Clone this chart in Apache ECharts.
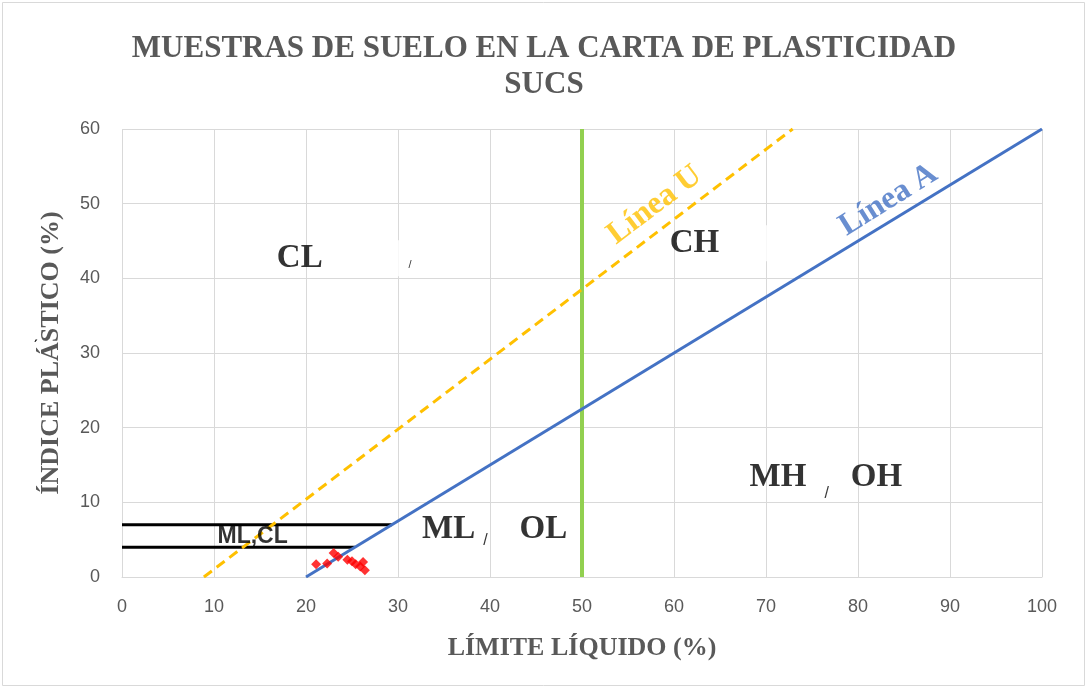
<!DOCTYPE html>
<html>
<head>
<meta charset="utf-8">
<script src="https://cdn.jsdelivr.net/npm/echarts@6/dist/echarts.min.js"></script>
<style>
  html, body { margin: 0; padding: 0; background: #fff; }
  #chart { width: 1088px; height: 689px; }
</style>
</head>
<body>
<div id="chart"></div>
<script>
// Casagrande plasticity chart (SUCS) with soil samples
const xTicks = [0, 10, 20, 30, 40, 50, 60, 70, 80, 90, 100];
const yTicks = [0, 10, 20, 30, 40, 50, 60];

// Reference lines as [LL, PI] endpoints
const lineU = [[8.9, 0], [72.9, 60]];
const lineA = [[20, 0], [100, 60]];
const lineLL50 = [[50, 0], [50, 60]];
const limitPI7 = [[0, 7], [29.33, 7]];
const limitPI4 = [[0, 4], [25.33, 4]];

// Soil samples: liquid limit (%) and plasticity index (%)
const sampleLL = [21.1, 22.3, 23.0, 23.5, 24.5, 25.0, 25.4, 26.2, 25.9, 26.4];
const samplePI = [1.7, 1.8, 3.2, 2.7, 2.3, 2.1, 1.7, 2.0, 1.4, 0.9];

// Zone names anchored in chart coordinates
const zoneText = ['CL', 'CH', 'MH', 'OH', 'ML', 'OL'];
const zoneLL = [19.1, 62.0, 71.3, 82.0, 35.5, 45.8];
const zonePI = [42.7, 44.7, 13.3, 13.3, 6.3, 6.3];

const serif = '"Liberation Serif", "Times New Roman", serif';
const sans = '"Liberation Sans", Arial, sans-serif';

const chart = echarts.init(document.getElementById('chart'));

const samples = sampleLL.map((v, i) => [v, samplePI[i]]);

const zoneItems = zoneText.map((t, i) => {
  const masked = (t === 'CL' || t === 'CH');
  return {
    value: [zoneLL[i], zonePI[i]],
    label: {
      show: true,
      position: 'inside',
      formatter: masked ? '{t|' + t + '}{w|}' : '{t|' + t + '}',
      offset: masked ? [42, 0] : [0, 0],
      rich: {
        t: { fontFamily: serif, fontWeight: 'bold', fontSize: 33, color: '#000' },
        w: { width: 80, height: 36, backgroundColor: '#fff' }
      }
    }
  };
});

const slash = { show: true, position: 'inside', formatter: '/', fontFamily: sans, fontSize: 16, color: '#000' };

const option = {
  animation: false,
  backgroundColor: '#fff',
  title: {
    text: 'MUESTRAS DE SUELO EN LA CARTA DE PLASTICIDAD\nSUCS',
    left: 'center',
    top: 26,
    textStyle: {
      fontFamily: serif,
      fontWeight: 'bold',
      fontSize: 31,
      lineHeight: 36,
      color: '#595959'
    }
  },
  grid: { left: 122, right: 46, top: 129, bottom: 112, containLabel: false },
  xAxis: {
    type: 'value',
    min: xTicks[0],
    max: xTicks[xTicks.length - 1],
    interval: 10,
    name: 'LÍMITE LÍQUIDO (%)',
    nameLocation: 'middle',
    nameGap: 58,
    nameTextStyle: { fontFamily: serif, fontWeight: 'bold', fontSize: 26, color: '#595959' },
    axisLine: { show: true, lineStyle: { color: '#d9d9d9', width: 1 } },
    axisTick: { show: false },
    axisLabel: { margin: 21, fontFamily: sans, fontSize: 18, color: '#595959' },
    splitLine: { show: true, lineStyle: { color: '#d9d9d9', width: 1 } }
  },
  yAxis: {
    type: 'value',
    min: yTicks[0],
    max: yTicks[yTicks.length - 1],
    interval: 10,
    name: 'ÍNDICE PLÁSTICO (%)',
    nameLocation: 'middle',
    nameGap: 58,
    nameTextStyle: { fontFamily: serif, fontWeight: 'bold', fontSize: 26, color: '#595959' },
    axisLine: { show: false },
    axisTick: { show: false },
    axisLabel: { margin: 22, fontFamily: sans, fontSize: 18, color: '#595959' },
    splitLine: { show: true, lineStyle: { color: '#d9d9d9', width: 1 } }
  },
  series: [
    {
      name: 'Límites ML-CL 7',
      type: 'line',
      data: limitPI7,
      symbol: 'none',
      lineStyle: { color: '#000', width: 3 },
      z: 3
    },
    {
      name: 'Límites ML-CL 4',
      type: 'line',
      data: limitPI4,
      symbol: 'none',
      lineStyle: { color: '#000', width: 3 },
      z: 3
    },
    {
      name: 'LL 50',
      type: 'line',
      data: lineLL50,
      symbol: 'none',
      lineStyle: { color: '#92d050', width: 4 },
      z: 3
    },
    {
      name: 'Línea U',
      type: 'line',
      data: lineU,
      symbol: 'none',
      lineStyle: { color: '#ffc000', width: 3, type: [10, 6] },
      z: 4
    },
    {
      name: 'Línea A',
      type: 'line',
      data: lineA,
      symbol: 'none',
      lineStyle: { color: '#4472c4', width: 3 },
      z: 4
    },
    {
      name: 'Muestras',
      type: 'scatter',
      data: samples,
      symbol: 'diamond',
      symbolSize: 10,
      itemStyle: { color: '#ff0000' },
      z: 5
    },
    {
      name: 'Zonas',
      type: 'scatter',
      data: zoneItems,
      symbolSize: 0,
      silent: true,
      z: 6
    },
    {
      name: 'Rótulos',
      type: 'scatter',
      symbolSize: 0,
      silent: true,
      z: 6,
      data: [
        {
          value: [57.9, 49.8],
          label: {
            show: true, position: 'inside', formatter: 'Línea U', rotate: 37,
            fontFamily: serif, fontWeight: 'bold', fontSize: 32, color: '#ffc000'
          }
        },
        {
          value: [83.3, 50.5],
          label: {
            show: true, position: 'inside', formatter: 'Línea A', rotate: 32,
            fontFamily: serif, fontWeight: 'bold', fontSize: 32, color: '#4472c4'
          }
        },
        {
          value: [14.2, 5.4],
          label: {
            show: true, position: 'inside', formatter: 'ML,CL',
            fontFamily: sans, fontWeight: 'bold', fontSize: 23, color: '#000'
          }
        },
        { value: [39.5, 4.9], label: slash },
        { value: [76.6, 11.2], label: slash },
        { value: [31.3, 41.8], label: Object.assign({}, slash, { fontSize: 11 }) }
      ]
    }
  ],
  graphic: [
    {
      type: 'rect',
      shape: { x: 2.5, y: 2.5, width: 1082, height: 683 },
      style: { fill: 'none', stroke: '#d9d9d9', lineWidth: 1 },
      silent: true
    },
    {
      type: 'text',
      x: 33, y: 340,
      style: { text: 'ˊ', fontSize: 16, fill: '#000', fontFamily: sans },
      silent: true
    }
  ]
};

chart.setOption(option);
</script>
</body>
</html>
